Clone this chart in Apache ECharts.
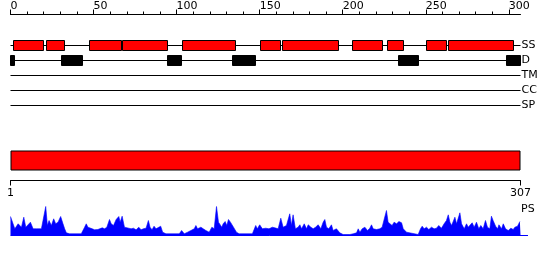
<!DOCTYPE html>
<html><head><meta charset="utf-8">
<script src="https://cdn.jsdelivr.net/npm/echarts@6/dist/echarts.min.js"></script>
<style>html,body{margin:0;padding:0;background:#fff}#c{width:550px;height:260px}</style>
</head><body><div id="c"></div>
<script>
// ---------- data ----------
const seqLength = 307;
const topTickLabels = [0, 50, 100, 150, 200, 250, 300];
const topMinorTicks = [0,10,20,30,40,50,60,70,80,90,100,110,120,130,140,150,160,170,180,190,200,210,220,230,240,250,260,270,280,290,300];
const rowNames = ['SS', 'D', 'TM', 'CC', 'SP'];
const ssStarts = [2, 21.5, 47.5, 67.5, 103.5, 150.5, 163.5, 206, 227, 250.5, 263.5];
const ssEnds   = [20, 32.5, 67, 94.5, 135.5, 162.5, 197.5, 224, 236.5, 262.5, 303];
const dStarts  = [0, 30.5, 94.5, 133.5, 233.5, 298.5];
const dEnds    = [2.5, 43.5, 103, 147.5, 245.5, 307];
const bottomTickValues = [0, 307];
const bottomTickLabels = ['1', '307'];
const psPos = [0,2.6,4.6,6.6,8,9.2,12,13.6,15.6,16.6,18.6,21.2,22.2,23.2,24.6,26,27.2,28.6,30.2,31.6,32.6,33.6,35.6,42.6,43.6,44.6,45.6,46.6,47.6,49.2,50.6,52.6,53.6,55.2,56.6,58,59.6,60.6,62,63.6,65.2,66,67.2,68.6,69.6,71.2,72.6,74,75.6,77.2,78.6,80,81.6,83,84,85.2,86.4,87.6,88.8,90.4,91.6,93.6,101.6,103,104.6,106.6,108.6,110.6,111.6,112.6,114.6,116,117.6,119.6,121.2,122.6,124,125.2,126,127.2,128,129.2,130.2,131.2,132.4,133.2,134.6,136,137.6,145.6,147.6,148.6,150,151.6,153.6,155.6,157.6,159.1,161.1,162.7,164.1,166.1,168.1,169.1,170.1,171.5,173.1,174.2,175.2,176.8,178.2,179.2,180.8,182.2,183.6,185.2,186.8,188.2,189.2,190.2,191.6,193.2,194.2,196.2,198.2,200.2,204.3,206.3,208.3,209.3,210.3,211.7,213.3,214.9,216.3,217.3,218.3,220.3,222.3,223.7,224.9,226.3,227.3,228.3,229.7,230.9,232.4,233.8,235.4,236.4,238.4,239.4,245.4,246.8,247.8,249,250.4,251.8,253.4,255,256.4,257.8,259.4,261,262.4,263.5,264.5,265.5,266.5,267.5,268.5,269.5,270.5,271.5,273.1,274.5,275.5,276.5,277.9,279.1,280.5,281.9,283.1,284.5,285.9,287.1,288.5,289.5,290.5,292,293.2,294,295.6,296.6,298,299.6,301.2,302.6,303.6,305.2,306.6,307];
const psVal = [19,6.7,11.7,8.3,18.3,8.3,13.3,6.7,6.7,7.3,6.7,29,10,15,10,16.7,11.7,13.3,19,11.7,6.7,2.7,1.7,1.7,2.7,8.3,11.7,8.3,9.3,6.7,5.7,6,5,7.7,6.7,8.3,16,11.7,10,16,19,13.3,19.3,8.3,6.7,7.3,6.7,7.3,5.7,8.3,5.7,6.7,7.3,15,8.3,5.7,9.3,6.7,5,9.3,3.3,1.7,1.7,5,1.7,3.3,5,6.7,10,6.7,8.3,6.7,5,3.3,8.3,6.7,29,13.3,15,8.3,11.7,14,10,16,13.3,11.7,7.3,3.3,1.7,1.7,10,6.7,10.7,6.7,7.3,6.7,8.3,7.7,6.7,17.3,8.3,10,21.7,10,20.7,6.7,8.3,10.7,6.7,11.7,6.7,10.7,8.3,6.7,8.3,10.7,6.7,13.3,16,8.3,6.7,10.7,5,6.7,2.7,1,1,1.7,2.7,6.7,3.3,6.7,8.3,5,7.3,10.7,6.7,6,6.7,8.3,6.7,25,13.3,11.7,10,13.3,11.7,14,12.7,6.7,3.3,1.7,1,6.7,9.3,6.7,8.3,6,8.3,6.7,7.3,10,7.3,11.7,15,20.7,13.3,10,11.7,18.3,11.7,13.3,22.7,11.7,6.7,11.7,8.3,6.7,12.7,8.3,13.3,6.7,10,6.7,15,8.3,6.7,19.3,15,9.3,6.7,10.7,6.7,11.7,6.7,5,7.3,6,8.3,9.3,14,14];
const psAxisExtent = 311.5;

// ---------- build ----------
const FONT = 'DejaVu Sans';
const lineData = rowNames.map((n, i) => [0, seqLength, i]);
const boxData = ssStarts.map((s, i) => [s, ssEnds[i], 0, '#ff0000'])
  .concat(dStarts.map((s, i) => [s, dEnds[i], 1, '#000000']));
const psData = psPos.map((p, i) => [p, psVal[i]]);

function snap(v) { return Math.round(v - 0.5) + 0.5; }

const chart = echarts.init(document.getElementById('c'), null, {renderer: 'canvas'});
chart.setOption({
  animation: false,
  textStyle: {fontFamily: FONT},
  title: [{text: 'PS', left: 521, top: 204, padding: 0,
    textStyle: {fontFamily: FONT, fontSize: 11, fontWeight: 'normal', color: '#000'}}],
  grid: [
    {left: 10.5, top: 38, width: 510, height: 75},
    {left: 10.5, top: 150.5, width: 510, height: 20},
    {left: 10.5, top: 205.5, width: 517.5, height: 30}
  ],
  xAxis: [
    {gridIndex: 0, type: 'value', min: 0, max: seqLength, position: 'top', offset: 23.5,
      axisLine: {show: true, lineStyle: {color: '#000', width: 1}},
      axisTick: {show: true, length: 3, customValues: topMinorTicks, lineStyle: {color: '#000'}},
      axisLabel: {show: true, customValues: topTickLabels, align: 'left', margin: 3,
        color: '#000', fontSize: 11, fontFamily: FONT},
      splitLine: {show: false}},
    {gridIndex: 0, type: 'value', min: 0, max: seqLength, position: 'top', offset: 23.5,
      axisLine: {show: false},
      axisTick: {show: true, length: 5, customValues: topTickLabels, lineStyle: {color: '#000'}},
      axisLabel: {show: false}, splitLine: {show: false}},
    {gridIndex: 1, type: 'value', min: 0, max: seqLength, position: 'bottom', offset: 10,
      axisLine: {show: true, lineStyle: {color: '#000', width: 1}},
      axisTick: {show: true, length: 5, customValues: bottomTickValues, lineStyle: {color: '#000'}},
      axisLabel: {show: true, customValues: bottomTickValues, margin: 7, color: '#000', fontSize: 11, fontFamily: FONT,
        formatter: v => bottomTickLabels[bottomTickValues.indexOf(v)]},
      splitLine: {show: false}},
    {gridIndex: 2, type: 'value', min: 0, max: psAxisExtent, show: false, splitLine: {show: false}}
  ],
  yAxis: [
    {gridIndex: 0, type: 'category', data: rowNames, inverse: true, position: 'right',
      axisLine: {show: false}, axisTick: {show: false},
      axisLabel: {show: true, margin: 1, color: '#000', fontSize: 11, fontFamily: FONT, align: 'left'}},
    {gridIndex: 1, type: 'category', data: ['domain'], show: false},
    {gridIndex: 2, type: 'value', min: 0, max: 30, show: false, splitLine: {show: false}}
  ],
  series: [
    {type: 'custom', xAxisIndex: 0, yAxisIndex: 0, data: lineData, z: 1,
      renderItem: (params, api) => {
        const a = api.coord([api.value(0), api.value(2)]);
        const b = api.coord([api.value(1), api.value(2)]);
        const y = snap(a[1]);
        return {type: 'line', shape: {x1: a[0], y1: y, x2: b[0], y2: y},
          style: {stroke: '#000', lineWidth: 1}};
      }},
    {type: 'custom', xAxisIndex: 0, yAxisIndex: 0, data: boxData, z: 2,
      renderItem: (params, api) => {
        const a = api.coord([api.value(0), api.value(2)]);
        const b = api.coord([api.value(1), api.value(2)]);
        const x1 = snap(a[0]), x2 = snap(b[0]), yc = snap(a[1]);
        return {type: 'rect', shape: {x: x1, y: yc - 5, width: x2 - x1, height: 10},
          style: {fill: boxData[params.dataIndex][3], stroke: '#000', lineWidth: 1}};
      }},
    {type: 'bar', xAxisIndex: 2, yAxisIndex: 1, data: [seqLength], barWidth: 20,
      itemStyle: {color: '#ff0000', borderColor: '#000', borderWidth: 1}},
    {type: 'line', xAxisIndex: 3, yAxisIndex: 2, data: psData, symbol: 'none', smooth: false,
      lineStyle: {color: '#0000ff', width: 0.6}, areaStyle: {color: '#0000ff', opacity: 1}},
    {type: 'line', xAxisIndex: 3, yAxisIndex: 2, data: [[0, 0], [psAxisExtent, 0]], symbol: 'none',
      lineStyle: {color: '#0000ff', width: 1}}
  ]
});
</script></body></html>
